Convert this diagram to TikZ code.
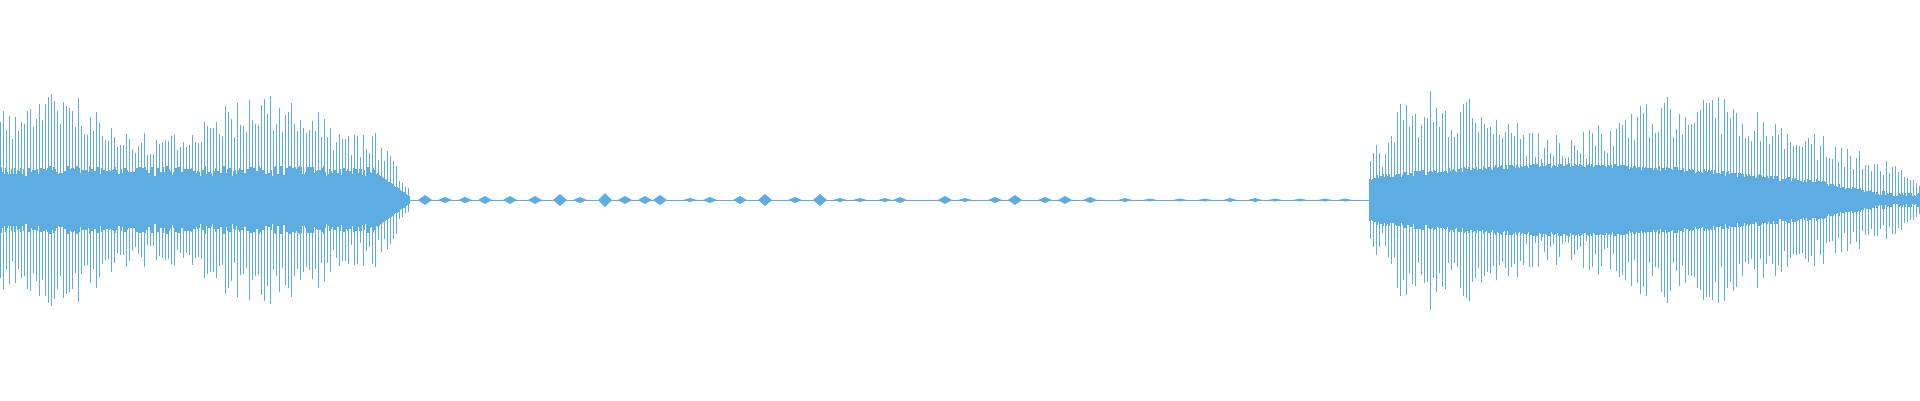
\documentclass[tikz,border=0pt]{standalone}
\usetikzlibrary{calc}
\definecolor{wave}{HTML}{5DADE2}
\tikzset{
    spike/.style = {draw=wave, line width=0.25pt},
    core/.style = {draw=wave, line width=0.5pt},
    blip/.style = {fill=wave}
}
\begin{document}
\begin{tikzpicture}
    \useasboundingbox (0,0) rectangle (19.2,4);
    \pgfmathsetseed{11}
    % centre line of the quiet part
    \draw [spike, line width=0.15pt] (4.1,2) -- (13.7,2);
    % left burst
    \foreach \x in {0,0.03,...,4.1} {
        \pgfmathsetmacro{\env}{(0.85+0.2*sin(\x*170))*(\x>3.75 ? max(0.05,(4.15-\x)/0.4) : 1)}
        \pgfmathsetmacro{\a}{\env*(0.65+0.4*rnd)}
        \draw [spike] (\x,2-\a) -- (\x,2+\a);
    }
    \foreach \x in {0,0.012,...,4.1} {
        \pgfmathsetmacro{\a}{(\x>3.8 ? max(0.03,(4.15-\x)*0.7) : 0.24+0.1*rnd)}
        \draw [core] (\x,2-\a) -- (\x,2+\a);
    }
    % small blips in the quiet part
    \foreach \x/\a in {4.25/0.05,4.45/0.03,4.65/0.03,4.85/0.04,5.1/0.04,5.35/0.04,5.6/0.06,5.8/0.03,6.05/0.07,6.25/0.04,6.45/0.04,6.6/0.05,6.9/0.02,7.1/0.03,7.4/0.04,7.65/0.06,7.95/0.03,8.2/0.06,8.4/0.02,8.6/0.02,8.85/0.02,9.0/0.03,9.45/0.04,9.65/0.02,9.95/0.03,10.15/0.05,10.45/0.03,10.65/0.04,10.9/0.03,11.25/0.02,11.5/0.015,11.8/0.015,12.05/0.015,12.3/0.02,12.55/0.02,12.75/0.015,13.0/0.015,13.25/0.015,13.45/0.015} {
        \fill [blip] (\x-0.07,2) -- (\x,2+\a) -- (\x+0.07,2) -- (\x,2-\a) -- cycle;
    }
    % right burst
    \foreach \x in {13.7,13.73,...,19.2} {
        \pgfmathsetmacro{\env}{(0.85+0.2*sin((\x-13.7)*140))*(\x>18.2 ? max(0.2,(19.4-\x)/1.2) : 1)*(\x<13.9 ? 0.6 : 1)}
        \pgfmathsetmacro{\a}{\env*(0.6+0.45*rnd)}
        \draw [spike] (\x,2-\a) -- (\x,2+\a);
    }
    \foreach \x in {13.7,13.712,...,19.2} {
        \pgfmathsetmacro{\a}{(0.2+0.12*sin((\x-13.7)*45))*(\x>18.2 ? max(0.3,(19.3-\x)/1.1) : 1)+0.05*rnd}
        \draw [core] (\x,2-\a) -- (\x,2+\a);
    }
\end{tikzpicture}
\end{document}
